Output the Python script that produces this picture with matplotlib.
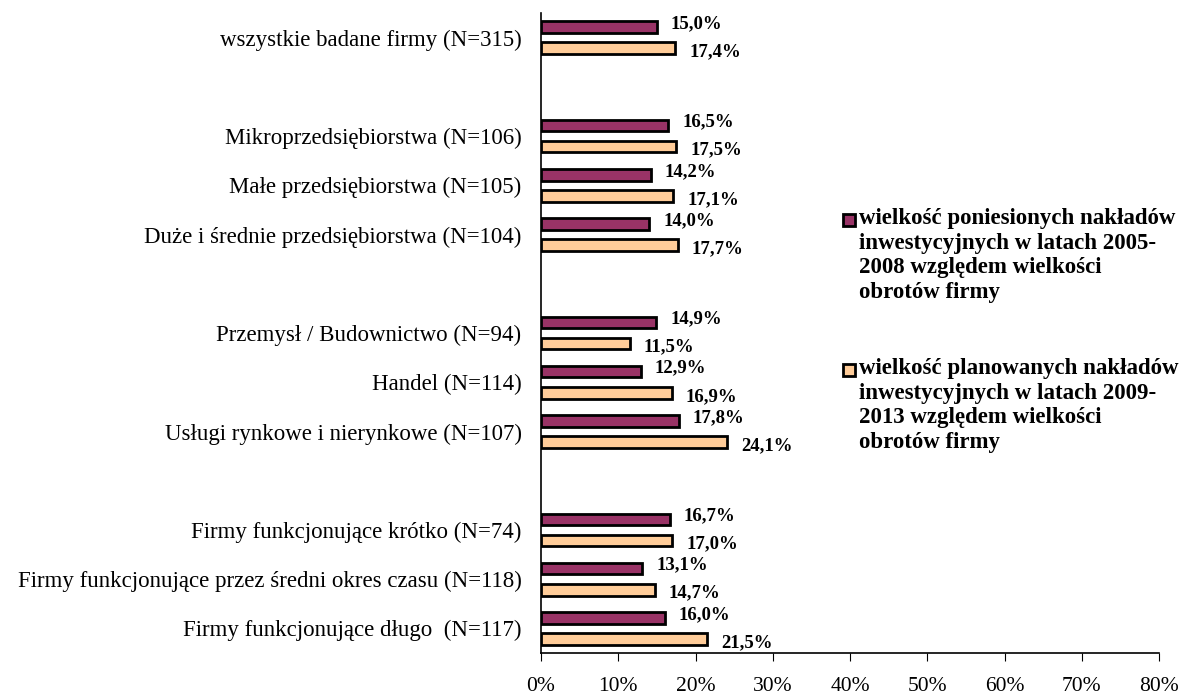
import matplotlib
matplotlib.use("Agg")
import matplotlib.pyplot as plt
from matplotlib.patches import Rectangle
import numpy as np

plt.rcParams['font.family'] = ['Liberation Serif', 'DejaVu Serif']

categories = [
    "wszystkie badane firmy (N=315)",
    "",
    "Mikroprzedsiębiorstwa (N=106)",
    "Małe przedsiębiorstwa (N=105)",
    "Duże i średnie przedsiębiorstwa (N=104)",
    "",
    "Przemysł / Budownictwo (N=94)",
    "Handel (N=114)",
    "Usługi rynkowe i nierynkowe (N=107)",
    "",
    "Firmy funkcjonujące krótko (N=74)",
    "Firmy funkcjonujące przez średni okres czasu (N=118)",
    "Firmy funkcjonujące długo  (N=117)",
]
past = [15.0, None, 16.5, 14.2, 14.0, None, 14.9, 12.9, 17.8, None, 16.7, 13.1, 16.0]
planned = [17.4, None, 17.5, 17.1, 17.7, None, 11.5, 16.9, 24.1, None, 17.0, 14.7, 21.5]
legend_labels = [
    "wielkość poniesionych nakładów\ninwestycyjnych w latach 2005-\n2008 względem wielkości\nobrotów firmy",
    "wielkość planowanych nakładów\ninwestycyjnych w latach 2009-\n2013 względem wielkości\nobrotów firmy",
]
colors = ["#993366", "#FFCC99"]
xticks = [0, 10, 20, 30, 40, 50, 60, 70, 80]

fig = plt.figure(figsize=(11.83, 6.97), dpi=100)
ax = fig.add_axes([541/1183, 1-653/697, (1159-541)/1183, (653-13)/697])

n = len(categories)
y = np.arange(n)
off = 0.215
h = 0.235

for series, col, sgn in [(past, colors[0], -1), (planned, colors[1], 1)]:
    for i, v in enumerate(series):
        if v is None:
            continue
        ax.barh(y[i] + sgn * off, v, height=h, color=col, edgecolor="black", linewidth=2)
        ax.text(v + 1.8, y[i] + sgn * (off + 0.07), f"{v:.1f}%".replace(".", ","),
                ha="left", va="center", fontsize=13.5, fontweight="bold")

ax.set_ylim(n - 0.5, -0.5)
ax.set_xlim(0, 80)
ax.set_yticks(y)
ax.set_yticklabels(categories, fontsize=16.5)
ax.tick_params(axis="y", length=0, pad=14)
ax.set_xticks(xticks)
ax.set_xticklabels([f"{t}%" for t in xticks], fontsize=15.5)
ax.tick_params(axis="x", direction="out", length=6, width=0.8, pad=11)
for s in ["top", "right"]:
    ax.spines[s].set_visible(False)
ax.spines["left"].set_linewidth(1.2)
ax.spines["bottom"].set_linewidth(1.2)

# legend
leg_y = [220, 370]
for lbl, col, yy in zip(legend_labels, colors, leg_y):
    fig.patches.append(Rectangle((843/1183, 1-(yy+6)/697), 12/1183, 12/697,
                                 transform=fig.transFigure, facecolor=col,
                                 edgecolor="black", linewidth=2))
    fig.text(859/1183, 1-(yy-12)/697, lbl, ha="left", va="top", fontsize=16.5,
             fontweight="bold", linespacing=1.22)

fig.savefig("out.png", dpi=100)
